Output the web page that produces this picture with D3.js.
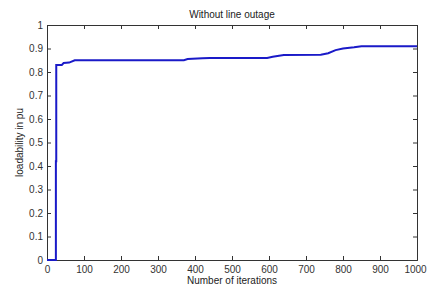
<!DOCTYPE html>
<html><head><meta charset="utf-8">
<script src="https://cdn.jsdelivr.net/npm/d3@7"></script>
<style>body{margin:0;background:#fff}text{font-family:"Liberation Sans",Arial,sans-serif}</style>
</head><body><svg id="c" width="427" height="287"></svg>
<script>
const iterations = [0,24,24,25,25,40,45,60,75,370,380,420,440,595,610,640,740,760,780,800,830,850,1000];
const loadability = [0,0,0.42,0.42,0.83,0.83,0.838,0.84,0.85,0.85,0.855,0.858,0.86,0.86,0.865,0.872,0.873,0.88,0.893,0.9,0.905,0.91,0.91];
const xTicks = [0,100,200,300,400,500,600,700,800,900,1000];
const yTicks = [0,0.1,0.2,0.3,0.4,0.5,0.6,0.7,0.8,0.9,1];

const svg = d3.select("#c");
const L=47,R=417,T=25,B=260;
const x = d3.scaleLinear().domain([0,1000]).range([L,R]);
const y = d3.scaleLinear().domain([0,1]).range([B,T]);
const fmt = d => String(d);

const gx = svg.append("g").attr("transform",`translate(0,${B})`)
  .call(d3.axisBottom(x).tickValues(xTicks).tickSize(-4).tickPadding(6).tickFormat(fmt));
const gxt = svg.append("g").attr("transform",`translate(0,${T})`)
  .call(d3.axisTop(x).tickValues(xTicks).tickSize(-4).tickFormat(""));
const gy = svg.append("g").attr("transform",`translate(${L},0)`)
  .call(d3.axisLeft(y).tickValues(yTicks).tickSize(-4).tickPadding(4).tickFormat(fmt));
const gyr = svg.append("g").attr("transform",`translate(${R},0)`)
  .call(d3.axisRight(y).tickValues(yTicks).tickSize(-4).tickFormat(""));
[gx,gxt,gy,gyr].forEach(g=>{
  g.selectAll("path.domain").attr("stroke","#333");
  g.selectAll("line").attr("stroke","#333");
  g.selectAll("text").attr("fill","#333").style("font-size","10px").style("font-family","Liberation Sans, Arial, sans-serif");
});
gx.selectAll("text").filter(d=>d===1000).attr("dx","-2px");

const pts = iterations.map((d,i)=>[d,loadability[i]]);
svg.append("path").datum(pts)
  .attr("fill","none").attr("stroke","#1a1ac8").attr("stroke-width",2)
  .attr("d",d3.line().x(d=>x(d[0])).y(d=>y(d[1])));

svg.append("text").attr("x",(L+R)/2).attr("y",18).attr("text-anchor","middle")
  .attr("fill","#222").style("font-size","10px").text("Without line outage");
svg.append("text").attr("x",(L+R)/2).attr("y",284).attr("text-anchor","middle")
  .attr("fill","#222").style("font-size","10px").text("Number of iterations");
svg.append("text").attr("transform",`translate(23,${(T+B)/2}) rotate(-90)`).attr("text-anchor","middle")
  .attr("fill","#222").style("font-size","10px").text("loadability in pu");
</script></body></html>
